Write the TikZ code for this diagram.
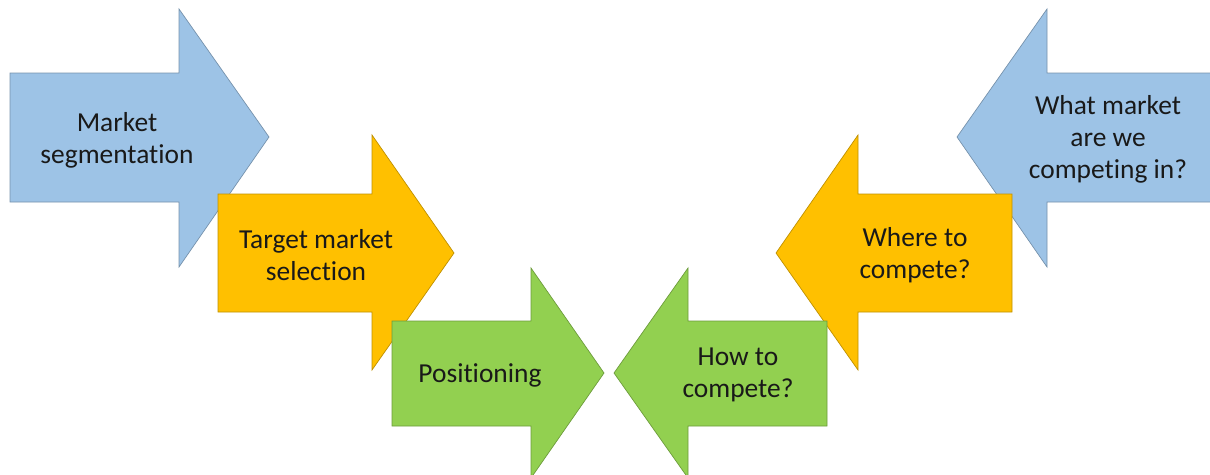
\documentclass[tikz,border=0pt]{standalone}
\usepackage{fontspec}
\setmainfont{Carlito}[Ligatures=CommonOff]
\definecolor{ablue}{HTML}{9DC3E6}
\definecolor{aorange}{HTML}{FFC000}
\definecolor{agreen}{HTML}{92D050}

\begin{document}
\begin{tikzpicture}[x=0.025cm, y=-0.025cm,
    blue_arrow/.style={fill=ablue, draw=ablue!75!black, line width=0.5pt},
    orange_arrow/.style={fill=aorange, draw=aorange!75!black, line width=0.5pt},
    green_arrow/.style={fill=agreen, draw=agreen!75!black, line width=0.5pt},
    label_node/.style={align=center, inner sep=0pt, text=black!90, font=\fontsize{19.5}{22.8}\selectfont}]

    \useasboundingbox (0,0) rectangle (1210,474);
    \clip (0,0) rectangle (1210,474);

    % left side, pointing right
    \filldraw[blue_arrow] (10,73) -- (179,73) -- (179,9) -- (269,137) -- (179,267) -- (179,202) -- (10,202) -- cycle;
    \filldraw[orange_arrow] (218,194) -- (372,194) -- (372,135) -- (454,253) -- (372,370) -- (372,312) -- (218,312) -- cycle;
    \filldraw[green_arrow] (392,321) -- (531,321) -- (531,268) -- (604,373) -- (531,478) -- (531,426) -- (392,426) -- cycle;

    % right side, pointing left
    \filldraw[blue_arrow] (957,137) -- (1047,9) -- (1047,73) -- (1215,73) -- (1215,202) -- (1047,202) -- (1047,267) -- cycle;
    \filldraw[orange_arrow] (776,253) -- (858,135) -- (858,194) -- (1012,194) -- (1012,312) -- (858,312) -- (858,370) -- cycle;
    \filldraw[green_arrow] (614,373) -- (688,268) -- (688,321) -- (827,321) -- (827,426) -- (688,426) -- (688,478) -- cycle;

    \node[label_node] (seg) at (117,140) {Market\\segmentation};
    \node[label_node] (target) at (316,255) {Target market\\selection};
    \node[label_node] (pos) at (480,375) {Positioning};
    \node[label_node] (how) at (738,375) {How to\\compete?};
    \node[label_node] (where) at (915,255) {Where to\\compete?};
    \node[label_node] (what) at (1108,139) {What market\\are we\\competing in?};

\end{tikzpicture}
\end{document}
